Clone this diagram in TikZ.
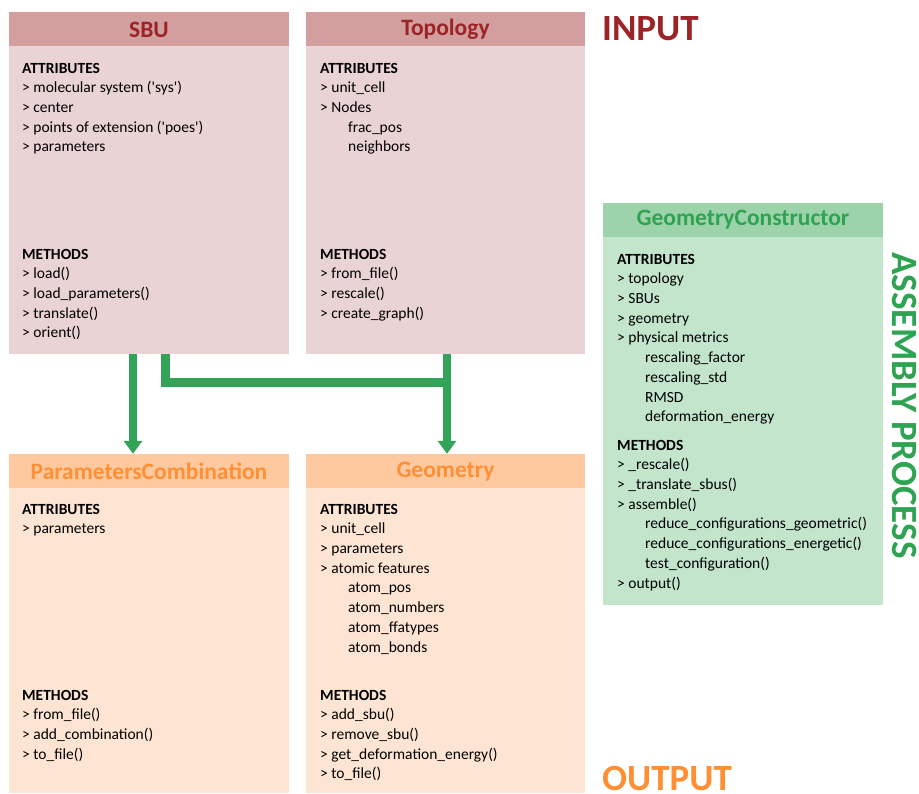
\documentclass[tikz,border=0pt]{standalone}
\usepackage{fontspec}
\setmainfont{Carlito}
\usetikzlibrary{arrows.meta}
\definecolor{redhead}{HTML}{D39E9E}
\definecolor{redbody}{HTML}{EAD3D4}
\definecolor{redtext}{HTML}{9C2426}
\definecolor{orhead}{HTML}{FFC9A0}
\definecolor{orbody}{HTML}{FEE5D3}
\definecolor{ortext}{HTML}{FF8F35}
\definecolor{grhead}{HTML}{9DD3AB}
\definecolor{grbody}{HTML}{C3E5CC}
\definecolor{grtext}{HTML}{2EA352}
\definecolor{conncol}{HTML}{33A457}
\tikzset{
  boxpart/.style={rectangle, inner sep=0pt, draw=none},
  headtxt/.style={font=\fontsize{23.5}{28}\selectfont\bfseries},
  bodytxt/.style={anchor=north west, inner sep=0pt, align=left, font=\fontsize{15.5}{19.7}\selectfont},
  bigtxt/.style={inner sep=0pt, font=\fontsize{37}{40}\selectfont\bfseries},
  conn/.style={draw=conncol, line width=8.5pt, line cap=butt, line join=miter},
  tip/.style={-{Triangle[width=18pt,length=13pt]}}
}
\newcommand{\ind}{\hspace*{28pt}}
\newcommand{\sq}{\textquotesingle}
\begin{document}
\begin{tikzpicture}[x=1pt,y=-1pt]
\useasboundingbox (0,0) rectangle (919,794);
% SBU
\node[boxpart, fill=redhead, minimum width=280pt, minimum height=34pt] (sbuh) at (149,29) {};
\node[boxpart, fill=redbody, minimum width=280pt, minimum height=308pt] (sbub) at (149,200) {};
\node[headtxt, text=redtext] (sbut) at (149,29.5) {SBU};
\node[bodytxt] (sbua) at (22,59.2) {\strut\textbf{ATTRIBUTES}\\> molecular system (\sq sys\sq)\\> center\\> points of extension (\sq poes\sq)\\> parameters};
\node[bodytxt] (sbum) at (22,245.2) {\strut\textbf{METHODS}\\> load()\\> load\_parameters()\\> translate()\\> orient()};
% Topology
\node[boxpart, fill=redhead, minimum width=279pt, minimum height=34pt] (topoh) at (445.5,29) {};
\node[boxpart, fill=redbody, minimum width=279pt, minimum height=308pt] (topob) at (445.5,200) {};
\node[headtxt, text=redtext] (topot) at (445.5,29.5) {Topology};
\node[bodytxt] (topoa) at (320,59.2) {\strut\textbf{ATTRIBUTES}\\> unit\_cell\\> Nodes\\\ind frac\_pos\\\ind neighbors};
\node[bodytxt] (topom) at (320,245.2) {\strut\textbf{METHODS}\\> from\_file()\\> rescale()\\> create\_graph()};
% ParametersCombination
\node[boxpart, fill=orhead, minimum width=280pt, minimum height=34pt] (pch) at (149,471) {};
\node[boxpart, fill=orbody, minimum width=280pt, minimum height=305pt] (pcb) at (149,640.5) {};
\node[headtxt, text=ortext] (pct) at (149,471.5) {ParametersCombination};
\node[bodytxt] (pca) at (22,500.2) {\strut\textbf{ATTRIBUTES}\\> parameters};
\node[bodytxt] (pcm) at (22,686.2) {\strut\textbf{METHODS}\\> from\_file()\\> add\_combination()\\> to\_file()};
% Geometry
\node[boxpart, fill=orhead, minimum width=279pt, minimum height=34pt] (geomh) at (445.5,471) {};
\node[boxpart, fill=orbody, minimum width=279pt, minimum height=305pt] (geomb) at (445.5,640.5) {};
\node[headtxt, text=ortext] (geomt) at (445.5,471.5) {Geometry};
\node[bodytxt] (geoma) at (320,500.2) {\strut\textbf{ATTRIBUTES}\\> unit\_cell\\> parameters\\> atomic features\\\ind atom\_pos\\\ind atom\_numbers\\\ind atom\_ffatypes\\\ind atom\_bonds};
\node[bodytxt] (geomm) at (320,686.2) {\strut\textbf{METHODS}\\> add\_sbu()\\> remove\_sbu()\\> get\_deformation\_energy()\\> to\_file()};
% GeometryConstructor
\node[boxpart, fill=grhead, minimum width=280pt, minimum height=34pt] (gch) at (743,220) {};
\node[boxpart, fill=grbody, minimum width=280pt, minimum height=368pt] (gcb) at (743,421) {};
\node[headtxt, text=grtext] (gct) at (743,220) {GeometryConstructor};
\node[bodytxt] (gca) at (617,250.2) {\strut\textbf{ATTRIBUTES}\\> topology\\> SBUs\\> geometry\\> physical metrics\\\ind rescaling\_factor\\\ind rescaling\_std\\\ind RMSD\\\ind deformation\_energy};
\node[bodytxt] (gcm) at (617,436.2) {\strut\textbf{METHODS}\\> \_rescale()\\> \_translate\_sbus()\\> assemble()\\\ind reduce\_configurations\_geometric()\\\ind reduce\_configurations\_energetic()\\\ind test\_configuration()\\> output()};
% Labels
\node[bigtxt, text=redtext, anchor=base west] (inlab) at (602,41) {INPUT};
\node[bigtxt, text=ortext, anchor=base west, text depth=0pt] (outlab) at (602,790) {OUTPUT};
\node[bigtxt, text=grtext, rotate=-90] (asslab) at (904,405.5) {ASSEMBLY PROCESS};
% Connectors
\coordinate (joint) at (447,382.5);
\draw[conn, tip] ([xshift=-16pt]sbub.south) -- ([xshift=-16pt]pch.north);
\draw[conn] ([xshift=16.5pt]sbub.south) |- (joint);
\draw[conn, tip] ([xshift=1.5pt]topob.south) -- ([xshift=1.5pt]geomh.north);
\end{tikzpicture}
\end{document}
